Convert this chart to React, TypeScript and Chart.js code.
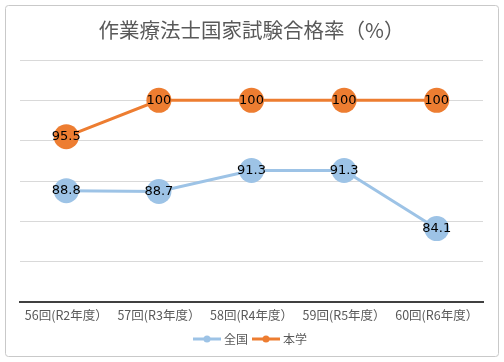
import React, { useEffect, useRef } from "react";
import { Chart, registerables } from "chart.js";

Chart.register(...registerables);

const categories = ["56回(R2年度）", "57回(R3年度）", "58回(R4年度）", "59回(R5年度）", "60回(R6年度）"];
const nationalValues = [88.8, 88.7, 91.3, 91.3, 84.1];
const schoolValues = [95.5, 100, 100, 100, 100];
const seriesNames = ["全国", "本学"];
const titleText = "作業療法士国家試験合格率（%）";

const BLUE = "#9DC3E6";
const ORANGE = "#ED7D31";
const FONT = "'Noto Sans CJK JP', 'Noto Sans', sans-serif";

function legendImage(color: string) {
  const c = document.createElement("canvas");
  c.width = 28;
  c.height = 8;
  const ctx = c.getContext("2d")!;
  ctx.strokeStyle = color;
  ctx.lineWidth = 3;
  ctx.beginPath();
  ctx.moveTo(0, 4);
  ctx.lineTo(28, 4);
  ctx.stroke();
  ctx.fillStyle = color;
  ctx.beginPath();
  ctx.arc(14, 4, 3.5, 0, Math.PI * 2);
  ctx.fill();
  return c;
}

const framePlugin = {
  id: "frame",
  beforeDraw(chart: any) {
    const ctx = chart.ctx;
    ctx.save();
    ctx.fillStyle = "#ffffff";
    ctx.fillRect(0, 0, chart.width, chart.height);
    ctx.strokeStyle = "#c9c9c9";
    ctx.lineWidth = 1;
    ctx.beginPath();
    (ctx as any).roundRect(5.5, 5.5, 493, 351, 3);
    ctx.stroke();
    ctx.restore();
  },
};

const labelPlugin = {
  id: "valueLabels",
  afterDatasetsDraw(chart: any) {
    const ctx = chart.ctx;
    ctx.save();
    ctx.font = `13px 'DejaVu Sans', sans-serif`;
    ctx.fillStyle = "#000000";
    ctx.textAlign = "center";
    ctx.textBaseline = "middle";
    chart.data.datasets.forEach((ds: any, i: number) => {
      const meta = chart.getDatasetMeta(i);
      meta.data.forEach((pt: any, j: number) => {
        ctx.fillText(String(ds.data[j]), pt.x, pt.y);
      });
    });
    ctx.restore();
  },
};

export default function App() {
  const ref = useRef<HTMLCanvasElement>(null);
  useEffect(() => {
    document.body.style.margin = "0";
    const imgs = [legendImage(BLUE), legendImage(ORANGE)];
    const chart = new Chart(ref.current!, {
      type: "line",
      data: {
        labels: categories,
        datasets: [
          {
            label: seriesNames[0],
            data: nationalValues,
            borderColor: BLUE,
            backgroundColor: BLUE,
            borderWidth: 3,
            pointRadius: 12.5,
            pointBorderWidth: 0,
            pointBackgroundColor: BLUE,
          },
          {
            label: seriesNames[1],
            data: schoolValues,
            borderColor: ORANGE,
            backgroundColor: ORANGE,
            borderWidth: 3,
            pointRadius: 12.5,
            pointBorderWidth: 0,
            pointBackgroundColor: ORANGE,
          },
        ],
      },
      options: {
        animation: false,
        responsive: false,
        layout: { padding: { left: 20, right: 21, top: 10, bottom: 7 } },
        plugins: {
          title: {
            display: true,
            text: titleText,
            color: "#595959",
            font: { family: FONT, size: 20.5, weight: "normal" },
            padding: { top: 8, bottom: 17.4 },
          },
          legend: {
            position: "bottom",
            labels: {
              usePointStyle: true,
              pointStyleWidth: 22,
              color: "#595959",
              font: { family: FONT, size: 12 },
              padding: 7,
              generateLabels: (chart: any) =>
                chart.data.datasets.map((ds: any, i: number) => ({
                  text: ds.label,
                  pointStyle: imgs[i],
                  fillStyle: ds.borderColor,
                  strokeStyle: ds.borderColor,
                  lineWidth: 0,
                  hidden: false,
                  datasetIndex: i,
                  fontColor: "#595959",
                })),
            },
          },
          tooltip: { enabled: false },
        },
        scales: {
          x: {
            offset: true,
            grid: { display: false, drawTicks: false },
            border: { display: true, color: "#404040", width: 2 },
            ticks: {
              color: "#595959",
              font: { family: FONT, size: 12.5 },
              padding: 6,
              maxRotation: 0,
            },
            afterFit: (scale: any) => {
              scale.height = scale.height - 3;
            },
          },
          y: {
            min: 75,
            max: 105,
            ticks: { display: false, stepSize: 5 },
            grid: { color: "#d9d9d9", drawTicks: false },
            border: { display: false },
          },
        },
      },
      plugins: [framePlugin, labelPlugin],
    });
    return () => chart.destroy();
  }, []);
  return (
    <div style={{ position: "absolute", left: 0, top: 0 }}>
      <canvas ref={ref} width={504} height={362} style={{ display: "block" }} />
    </div>
  );
}
